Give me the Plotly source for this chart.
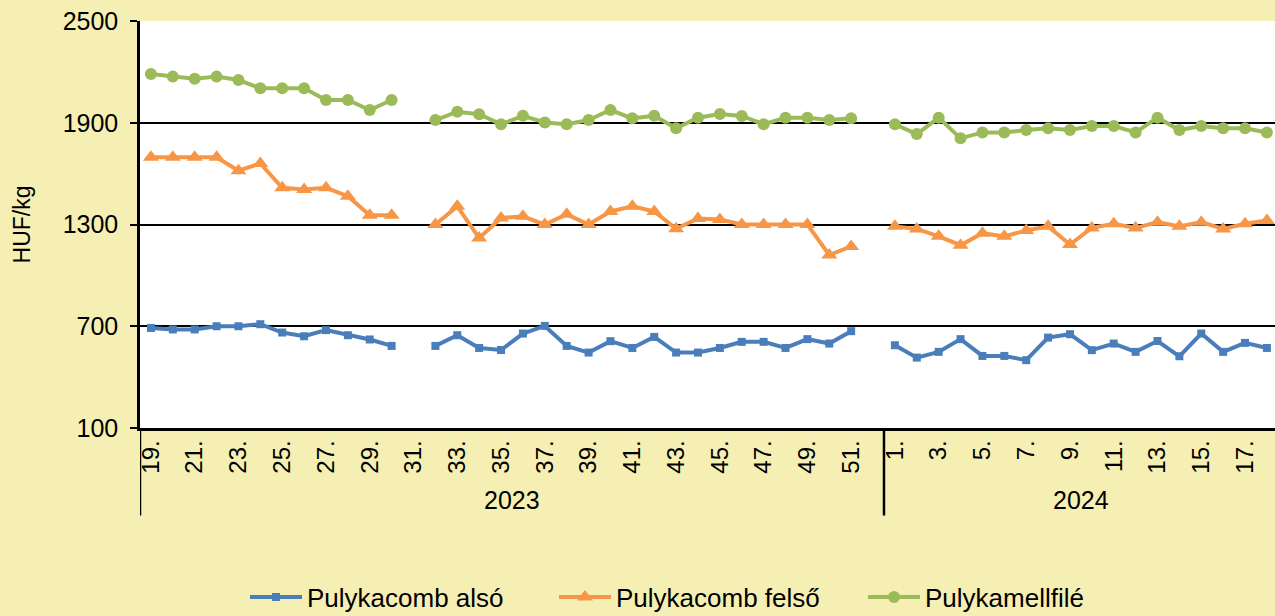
import plotly.graph_objects as go

# ---- data ----
weeks_2023 = list(range(19, 53))   # 19..52
weeks_2024 = list(range(1, 19))    # 1..18
years = ["2023", "2024"]

also_2023 = [690, 681, 681, 700, 700, 712, 663, 641, 677, 647, 622, 584, None,
             584, 647, 572, 560, 657, 702, 584, 545, 612, 572, 637, 545, 545, 572,
             608, 608, 572, 624, 598, 671, None]
also_2024 = [588, 515, 549, 624, 525, 525, 500, 633, 653, 559, 598, 549, 613, 523,
             657, 549, 602, 572]

felso_2023 = [1696, 1696, 1696, 1696, 1617, 1660, 1516, 1507, 1516, 1467, 1355, 1355, None,
              1300, 1407, 1220, 1338, 1348, 1300, 1360, 1300, 1377, 1407, 1377, 1275, 1336,
              1330, 1300, 1300, 1300, 1300, 1120, 1171, None]
felso_2024 = [1289, 1274, 1230, 1178, 1249, 1230, 1265, 1289, 1182, 1280, 1304, 1279,
              1314, 1289, 1314, 1274, 1304, 1324]

mell_2023 = [2188, 2172, 2160, 2172, 2152, 2103, 2103, 2103, 2034, 2034, 1975, 2034, None,
             1916, 1965, 1950, 1891, 1941, 1902, 1891, 1916, 1975, 1926, 1941, 1867, 1930,
             1951, 1940, 1891, 1930, 1930, 1916, 1926, None]
mell_2024 = [1891, 1833, 1930, 1808, 1843, 1843, 1857, 1867, 1857, 1881, 1881, 1843,
             1930, 1857, 1881, 1867, 1867, 1843]

y_ticks = [100, 700, 1300, 1900, 2500]

# ---- build ----
labels = [f"{w}." for w in weeks_2023] + [f"{w}." for w in weeks_2024]
n23 = len(weeks_2023)
n = len(labels)
xs = list(range(n))

FONT = "Liberation Sans, Arial, sans-serif"
BG = "#F5EFB3"

series = [
    ("Pulykacomb alsó", also_2023 + also_2024, "#4A7EBB", "square", 8),
    ("Pulykacomb felső", felso_2023 + felso_2024, "#F79646", "triangle-up", 14),
    ("Pulykamellfilé", mell_2023 + mell_2024, "#9BBB59", "circle", 12),
]

fig = go.Figure()
for name, vals, col, sym, ms in series:
    fig.add_trace(go.Scatter(
        x=xs, y=vals, name=name, mode="lines+markers",
        line=dict(color=col, width=4),
        marker=dict(symbol=sym, size=ms, color=col, line=dict(width=0)),
        connectgaps=False,
    ))

tickvals = [i for i in xs if int(labels[i].rstrip(".")) % 2 == 1]
ticktext = [labels[i] for i in tickvals]

fig.update_layout(
    width=1275, height=616,
    paper_bgcolor=BG, plot_bgcolor="white",
    margin=dict(l=140, r=0, t=21, b=188, autoexpand=False),
    font=dict(family=FONT, size=25, color="black"),
    showlegend=True,
    legend=dict(orientation="h", xref="container", yref="container",
                x=245 / 1275, xanchor="left", y=1 - 597 / 616, yanchor="middle",
                font=dict(size=26), bgcolor="rgba(0,0,0,0)",
                entrywidth=242, entrywidthmode="pixels", itemwidth=52),
    xaxis=dict(range=[-0.5, 51.37], tickmode="array", tickvals=tickvals, ticktext=ticktext,
               tickangle=-90, showgrid=False, zeroline=False, showline=True,
               linecolor="black", linewidth=2.5, ticks="", ticklabelstandoff=0,
               tickfont=dict(size=24)),
    yaxis=dict(range=[100, 2500], tickmode="array", tickvals=y_ticks,
               showgrid=True, gridcolor="black", gridwidth=2, zeroline=False,
               showline=True, linecolor="black", linewidth=2.5,
               ticks="outside", ticklen=7, tickwidth=2, tickcolor="black",
               ticklabelstandoff=7, tickfont=dict(size=25)),
)

# group separators for the two-level category axis
for xb in [-0.5, n23 - 0.5]:
    fig.add_shape(type="line", xref="x", yref="paper", x0=xb, x1=xb, y0=0, y1=-0.215,
                  line=dict(color="black", width=2.5))

# year labels
fig.add_annotation(x=(-0.5 + n23 - 0.5) / 2, y=-0.178, xref="x", yref="paper",
                   text=years[0], showarrow=False, font=dict(size=25),
                   xanchor="center", yanchor="middle")
fig.add_annotation(x=(n23 - 0.5 + n - 0.5) / 2, y=-0.178, xref="x", yref="paper",
                   text=years[1], showarrow=False, font=dict(size=25),
                   xanchor="center", yanchor="middle")

# y-axis title
fig.add_annotation(x=-0.104, y=0.5, xref="paper", yref="paper", text="HUF/kg",
                   textangle=-90, showarrow=False, font=dict(size=23),
                   xanchor="center", yanchor="middle")

fig.write_html("out.html", config={"displayModeBar": False},
               post_script="document.body.style.margin='0px';")
